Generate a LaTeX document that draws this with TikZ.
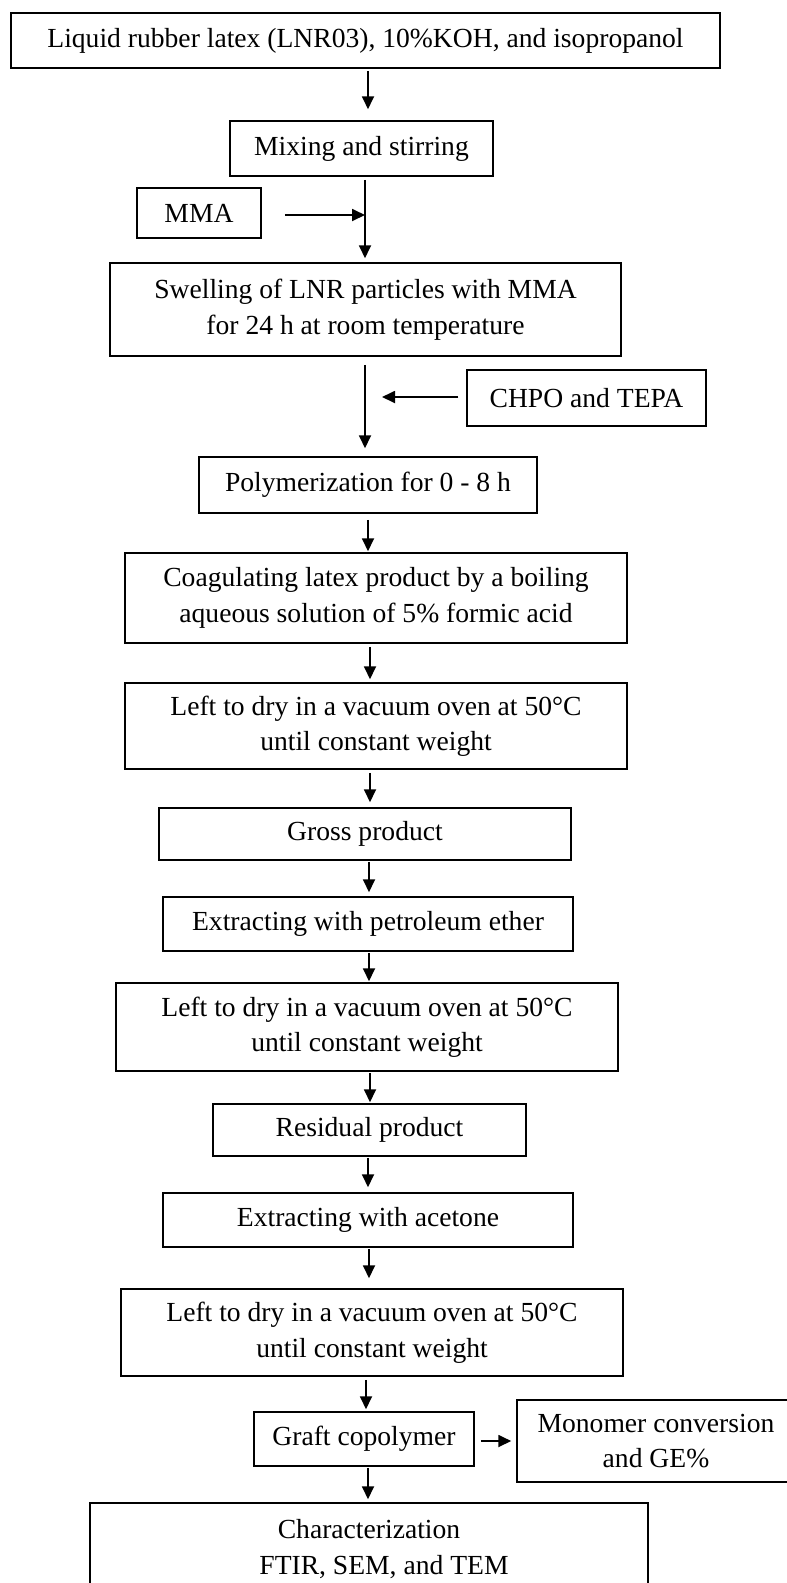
\documentclass[tikz,border=0pt]{standalone}
\usepackage{fontspec}
\setmainfont{Liberation Serif}
\usetikzlibrary{arrows.meta}
\begin{document}
\begin{tikzpicture}[x=1pt,y=-1pt,
  box/.style={draw,line width=1.5pt,inner sep=0pt,align=center,
    font=\fontsize{27.6}{35.5}\selectfont},
  arr/.style={line width=1.8pt,-{Triangle[length=13pt,width=12pt]}}]
\useasboundingbox (0,0) rectangle (787,1583);
\fill[white] (0,0) rectangle (787,1583);
\begin{scope}
\clip (0,0) rectangle (787,1583);
% nodes
\node[box,minimum width=709pt,minimum height=55pt] (b1) at (365.5,40.5) {Liquid rubber latex (LNR03), 10\%KOH, and isopropanol};
\node[box,minimum width=263pt,minimum height=55pt] (b2) at (361.5,148.5) {Mixing and stirring};
\node[box,minimum width=124pt,minimum height=50pt] (mma) at (199,213) {MMA};
\node[box,minimum width=511pt,minimum height=93pt] (b3) at (365.5,309.5) {Swelling of LNR particles with MMA\\for 24 h at room temperature};
\node[box,minimum width=239pt,minimum height=56pt] (chpo) at (586.5,398) {CHPO and TEPA};
\node[box,minimum width=338pt,minimum height=56pt] (b4) at (368,485) {Polymerization for 0 - 8 h};
\node[box,minimum width=502pt,minimum height=90pt] (b5) at (376,598) {Coagulating latex product by a boiling\\aqueous solution of 5\% formic acid};
\node[box,minimum width=502pt,minimum height=86pt] (b6) at (376,726) {Left to dry in a vacuum oven at 50°C\\until constant weight};
\node[box,minimum width=412pt,minimum height=52pt] (b7) at (365,834) {Gross product};
\node[box,minimum width=410pt,minimum height=54pt] (b8) at (368,924) {Extracting with petroleum ether};
\node[box,minimum width=502pt,minimum height=88pt] (b9) at (367,1027) {Left to dry in a vacuum oven at 50°C\\until constant weight};
\node[box,minimum width=313pt,minimum height=52pt] (b10) at (369.5,1130) {Residual product};
\node[box,minimum width=410pt,minimum height=54pt] (b11) at (368,1220) {Extracting with acetone};
\node[box,minimum width=502pt,minimum height=87pt] (b12) at (372,1332.5) {Left to dry in a vacuum oven at 50°C\\until constant weight};
\node[box,minimum width=220pt,minimum height=54pt] (b13) at (364,1439) {Graft copolymer};
\node[box,minimum width=278pt,minimum height=82pt] (mono) at (656,1441) {Monomer conversion\\and GE\%};
\node[box,minimum width=558pt,minimum height=92pt] (b14) at (369,1549) {Characterization\\\hspace*{30pt}FTIR, SEM, and TEM};
% helper coordinates
\coordinate (v365) at (365,0);
\coordinate (v366) at (366,0);
\coordinate (v368) at (368,0);
\coordinate (v369) at (369,0);
\coordinate (v370) at (370,0);
\coordinate (j1) at (365,215);
\coordinate (j2) at (365,397);
% vertical arrows
\draw[arr,shorten <=2pt,shorten >=11pt] (b1.south -| v368) -- (b2.north -| v368);
\draw[arr,shorten <=3pt,shorten >=4pt] (b2.south -| v365) -- (b3.north -| v365);
\draw[arr,shorten <=8pt,shorten >=8pt] (b3.south -| v365) -- (b4.north -| v365);
\draw[arr,shorten <=6pt,shorten >=1pt] (b4.south -| v368) -- (b5.north -| v368);
\draw[arr,shorten <=3pt,shorten >=3pt] (b5.south -| v370) -- (b6.north -| v370);
\draw[arr,shorten <=3pt,shorten >=5pt] (b6.south -| v370) -- (b7.north -| v370);
\draw[arr,shorten <=1pt,shorten >=4pt] (b7.south -| v369) -- (b8.north -| v369);
\draw[arr,shorten <=1pt,shorten >=1pt] (b8.south -| v369) -- (b9.north -| v369);
\draw[arr,shorten <=1pt,shorten >=1pt] (b9.south -| v370) -- (b10.north -| v370);
\draw[arr,shorten <=1pt,shorten >=5pt] (b10.south -| v368) -- (b11.north -| v368);
\draw[arr,shorten <=1pt,shorten >=10pt] (b11.south -| v369) -- (b12.north -| v369);
\draw[arr,shorten <=3pt,shorten >=2pt] (b12.south -| v366) -- (b13.north -| v366);
\draw[arr,shorten <=1pt,shorten >=3pt] (b13.south -| v368) -- (b14.north -| v368);
% side arrows
\draw[arr,shorten <=23pt] (mma.east |- j1) -- (j1);
\draw[arr,shorten <=8pt,shorten >=17pt] (chpo.west |- j2) -- (j2);
\draw[arr,shorten <=6pt,shorten >=5pt] (b13.east |- mono.west) -- (mono.west);
\end{scope}
\end{tikzpicture}
\end{document}
